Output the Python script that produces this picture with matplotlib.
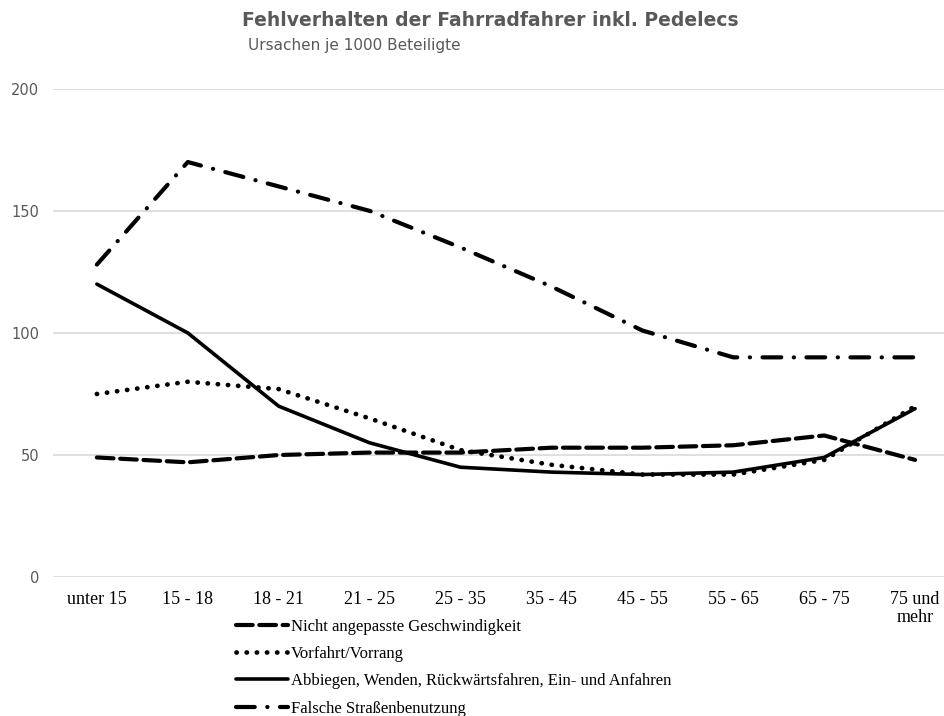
import matplotlib
matplotlib.use("Agg")
import matplotlib.pyplot as plt

# age groups and causes per 1000 participants
groups = ["unter 15", "15 - 18", "18 - 21", "21 - 25", "25 - 35",
          "35 - 45", "45 - 55", "55 - 65", "65 - 75", "75 und\nmehr"]
geschwindigkeit = [49, 47, 50, 51, 51, 53, 53, 54, 58, 48]
vorfahrt = [75, 80, 77, 65, 52, 46, 42, 42, 48, 70]
abbiegen = [120, 100, 70, 55, 45, 43, 42, 43, 49, 69]
strasse = [128, 170, 160, 150, 135, 119, 101, 90, 90, 90]

serif = ["Liberation Serif", "DejaVu Serif"]
grey = "#595959"

fig = plt.figure(figsize=(9.44, 7.16), dpi=100)
ax = fig.add_axes([0.056, 0.194, 0.944, 0.682])

x = range(len(groups))
l1, = ax.plot(x, geschwindigkeit, color="black", lw=3.0, dashes=(4, 1.6),
              dash_capstyle="round", label="Nicht angepasste Geschwindigkeit")
l2, = ax.plot(x, vorfahrt, color="black", lw=3.4, dashes=(0.05, 2.1),
              dash_capstyle="round", label="Vorfahrt/Vorrang")
l3, = ax.plot(x, abbiegen, color="black", lw=2.6, solid_capstyle="round",
              label="Abbiegen, Wenden, Rückwärtsfahren, Ein- und Anfahren")
l4, = ax.plot(x, strasse, color="black", lw=3.0, dashes=(4.5, 3, 0.05, 3),
              dash_capstyle="round", label="Falsche Straßenbenutzung")

ax.set_ylim(0, 200)
ax.set_xlim(-0.484, 9.318)
ax.set_yticks([0, 50, 100, 150, 200])
ax.yaxis.grid(True, color="#d9d9d9", lw=1.2)
ax.set_axisbelow(True)
for s in ax.spines.values():
    s.set_visible(False)
ax.tick_params(axis="both", length=0)
ax.tick_params(axis="y", pad=10, labelcolor=grey, labelsize=10.5)
ax.tick_params(axis="x", pad=10, labelsize=13)
ax.set_xticks(list(x))
ax.set_xticklabels(groups, family=serif, linespacing=1.1)

fig.text(0.519, 0.972, "Fehlverhalten der Fahrradfahrer inkl. Pedelecs",
         ha="center", va="center", fontsize=13.5, fontweight="bold", color=grey)
fig.text(0.263, 0.937, "Ursachen je 1000 Beteiligte",
         ha="left", va="center", fontsize=11, color=grey)

fig.legend(handles=[l1, l2, l3, l4], loc="upper left",
           bbox_to_anchor=(0.25, 0.136), frameon=False, handlelength=3.1,
           handletextpad=0.2, labelspacing=0.68, borderaxespad=0,
           borderpad=0, prop={"family": serif, "size": 12})

fig.savefig("out.png", dpi=100)
